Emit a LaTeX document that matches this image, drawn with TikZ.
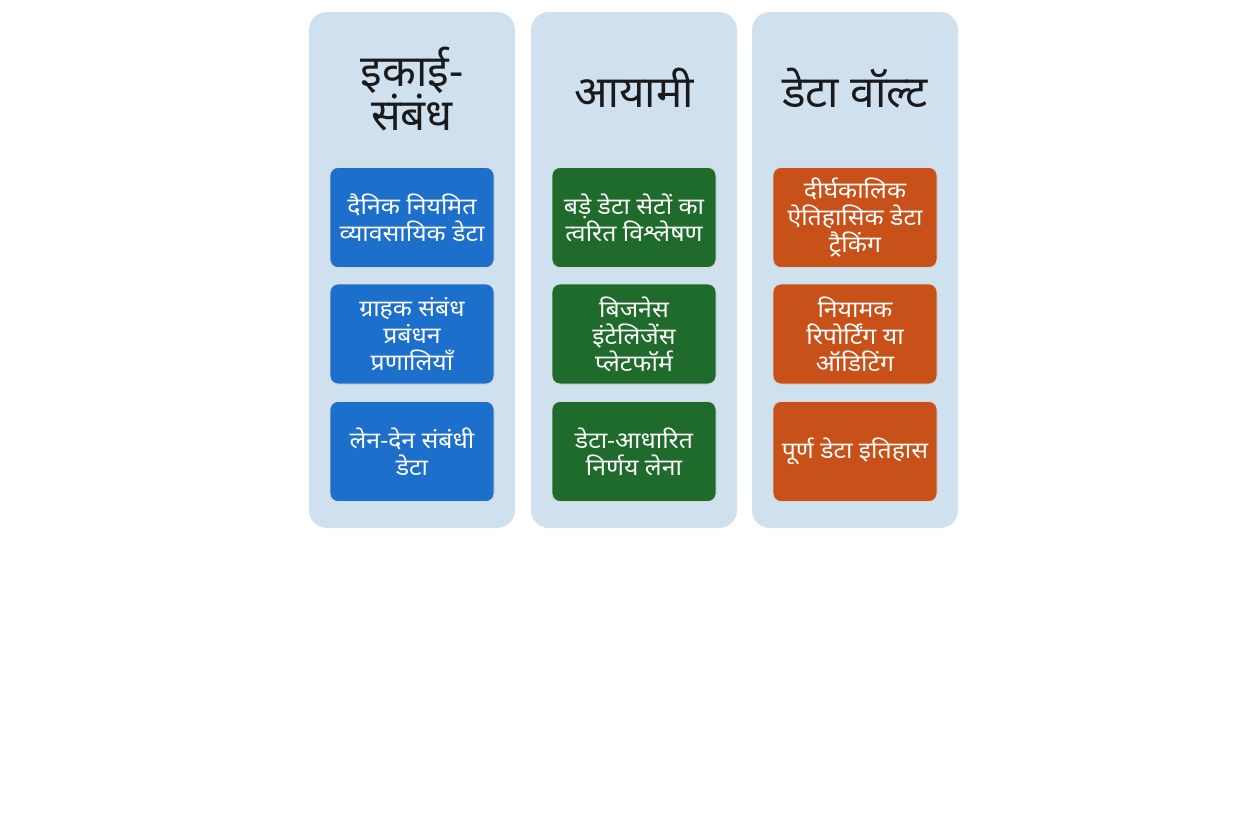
\documentclass[tikz,border=0pt]{standalone}
\usepackage{fontspec}
\newfontfamily\deva[Script=Devanagari]{Noto Sans}
\newfontfamily\devawide[Script=Devanagari,FakeStretch=1.08]{Noto Sans}
\definecolor{colbg}{HTML}{CFE0EF}
\definecolor{bluebox}{HTML}{1C6FCB}
\definecolor{greenbox}{HTML}{1F6B2B}
\definecolor{orangebox}{HTML}{C85019}
\definecolor{titletext}{HTML}{1A1A1A}
\tikzset{
  column/.style={fill=colbg, rounded corners=18pt, draw=none},
  coltitle/.style={font=\deva\fontsize{44}{42}\selectfont, text=titletext, align=center},
  card/.style={rounded corners=8pt, minimum width=164pt, minimum height=100pt,
    draw=white!85!black, line width=0.8pt, text=white, align=center,
    font=\devawide\fontsize{23}{27}\selectfont, inner sep=2pt},
  bluecard/.style={card, fill=bluebox},
  greencard/.style={card, fill=greenbox},
  orangecard/.style={card, fill=orangebox}
}
\begin{document}
\begin{tikzpicture}[x=1pt,y=-1pt]
\useasboundingbox[fill=white] (0,0) rectangle (1254,832);
% columns
\node[column, minimum width=206pt, minimum height=516pt, inner sep=0pt] (c1) at (412,270) {};
\node[column, minimum width=206pt, minimum height=516pt, inner sep=0pt] (c2) at (634,270) {};
\node[column, minimum width=206pt, minimum height=516pt, inner sep=0pt] (c3) at (855,270) {};
% titles
\node[coltitle] (t1) at (412,89) {इकाई-\\संबंध};
\node[coltitle] (t2) at (634,88) {आयामी};
\node[coltitle] (t3) at (855,88) {डेटा वॉल्ट};
% column 1
\node[bluecard] (b1) at (412,217.5) {दैनिक नियमित\\व्यावसायिक डेटा};
\node[bluecard] (b2) at (412,334) {ग्राहक संबंध\\प्रबंधन\\प्रणालियाँ};
\node[bluecard] (b3) at (412,451.5) {लेन-देन संबंधी\\डेटा};
% column 2
\node[greencard] (g1) at (634,217.5) {बड़े डेटा सेटों का\\त्वरित विश्लेषण};
\node[greencard] (g2) at (634,334) {बिजनेस\\इंटेलिजेंस\\प्लेटफॉर्म};
\node[greencard] (g3) at (634,451.5) {डेटा-आधारित\\निर्णय लेना};
% column 3
\node[orangecard] (o1) at (855,217.5) {दीर्घकालिक\\ऐतिहासिक डेटा\\ट्रैकिंग};
\node[orangecard] (o2) at (855,334) {नियामक\\रिपोर्टिंग या\\ऑडिटिंग};
\node[orangecard] (o3) at (855,451.5) {पूर्ण डेटा इतिहास};
\end{tikzpicture}
\end{document}
